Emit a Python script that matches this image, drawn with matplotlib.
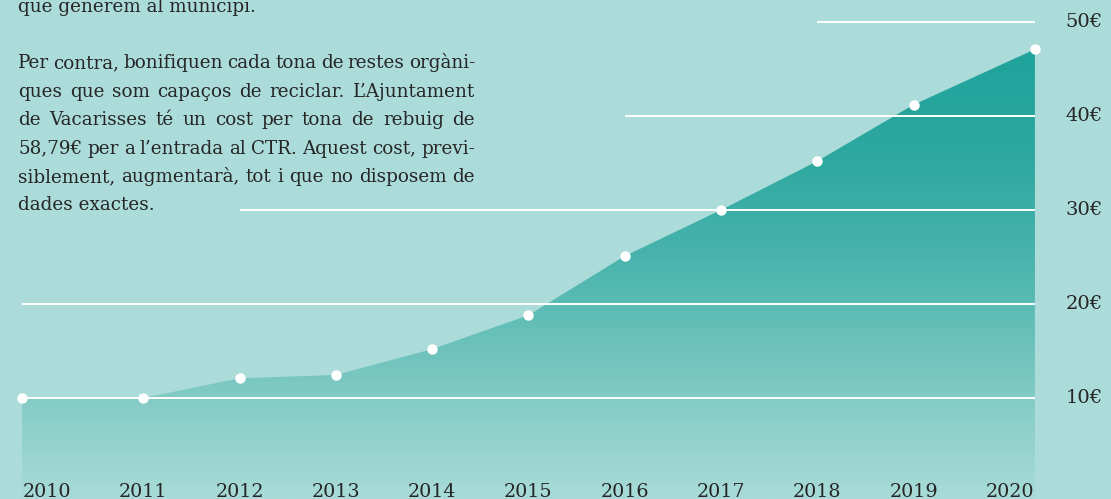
import numpy as np
import matplotlib.pyplot as plt
from matplotlib.colors import LinearSegmentedColormap
from matplotlib.patches import Polygon

# Data
years = ['2010', '2011', '2012', '2013', '2014', '2015',
         '2016', '2017', '2018', '2019', '2020']
cost = [10.0, 10.0, 12.1, 12.45, 15.2, 18.8, 25.1, 30.0, 35.2, 41.2, 47.1]
y_ticks = [10, 20, 30, 40, 50]
y_tick_labels = ['10€', '20€', '30€', '40€', '50€']

body_lines = [
    "que generem al municipi.",
    "",
    "Per contra, bonifiquen cada tona de restes orgàni-",
    "ques que som capaços de reciclar. L’Ajuntament",
    "de Vacarisses té un cost per tona de rebuig de",
    "58,79€ per a l’entrada al CTR. Aquest cost, previ-",
    "siblement, augmentarà, tot i que no disposem de",
    "dades exactes.",
]

W, H = 1111, 499
bg = '#abdcd9'
txt_col = '#262626'
serif = 'DejaVu Serif'

fig = plt.figure(figsize=(W / 100, H / 100), dpi=100, facecolor=bg)
ax = fig.add_axes([0, 0, 1, 1])
ax.set_facecolor(bg)
ax.set_xlim(-0.488, 11.05)
ax.set_ylim(-0.745, 52.34)
ax.axis('off')

idx = np.arange(len(years), dtype=float)
# first and last points sit on the edges of the area
x_pts = idx.copy()
x_pts[0] -= 0.26
x_pts[-1] += 0.26
y_bottom = -0.745

# --- gradient area ---
stops = [(0.0, '#a8dbd7'), (0.131, '#94d2cd'), (0.309, '#72c4be'),
         (0.531, '#49b4ad'), (0.753, '#2ea8a0'), (1.0, '#1fa39b')]
cmap = LinearSegmentedColormap.from_list('area', stops)
grad = np.linspace(0, 1, 256).reshape(-1, 1)
img = ax.imshow(grad, cmap=cmap, origin='lower', aspect='auto',
                extent=[x_pts[0], x_pts[-1], y_bottom, max(cost)], zorder=1)
verts = [(x_pts[0], y_bottom)] + list(zip(x_pts, cost)) + [(x_pts[-1], y_bottom)]
poly = Polygon(verts, closed=True, facecolor='none', edgecolor='none')
ax.add_patch(poly)
img.set_clip_path(poly)

# --- grid lines (partial) ---
grid_start = [x_pts[0], x_pts[0], 2, 6, 8]
for yv, xs in zip(y_ticks, grid_start):
    ax.plot([xs, x_pts[-1]], [yv, yv], color='white', lw=1.4, zorder=2,
            solid_capstyle='butt')

# points
ax.plot(x_pts, cost, 'o', color='white', ms=7.5, mec='none', zorder=3)

# labels
for i, yr in enumerate(years):
    ax.text(i, -0.5, yr, ha='center', va='baseline', fontsize=13.8,
            family=serif, color=txt_col, zorder=4)
for yv, lab in zip(y_ticks, y_tick_labels):
    ax.text(10.77, yv, lab, ha='center', va='center', fontsize=14,
            family=serif, color=txt_col)

# --- justified body text ---
fig.canvas.draw()
r = fig.canvas.get_renderer()
left, right = 18, 475
base0, step = 11.5, 28.4
fs = 13.2
for n, line in enumerate(body_lines):
    if not line:
        continue
    py = base0 + n * step
    fy = 1 - py / H
    justify = 0 < n < len(body_lines) - 1
    if not justify:
        fig.text(left / W, fy, line, ha='left', va='baseline', fontsize=fs,
                 family=serif, color=txt_col)
        continue
    words = line.split(' ')
    texts = [fig.text(0, fy, w, ha='left', va='baseline', fontsize=fs,
                      family=serif, color=txt_col) for w in words]
    widths = [t.get_window_extent(r).width for t in texts]
    gap = (right - left - sum(widths)) / (len(words) - 1)
    x = left
    for t, w in zip(texts, widths):
        t.set_x(x / W)
        x += w + gap

fig.savefig('out.png', dpi=100, facecolor=bg)
